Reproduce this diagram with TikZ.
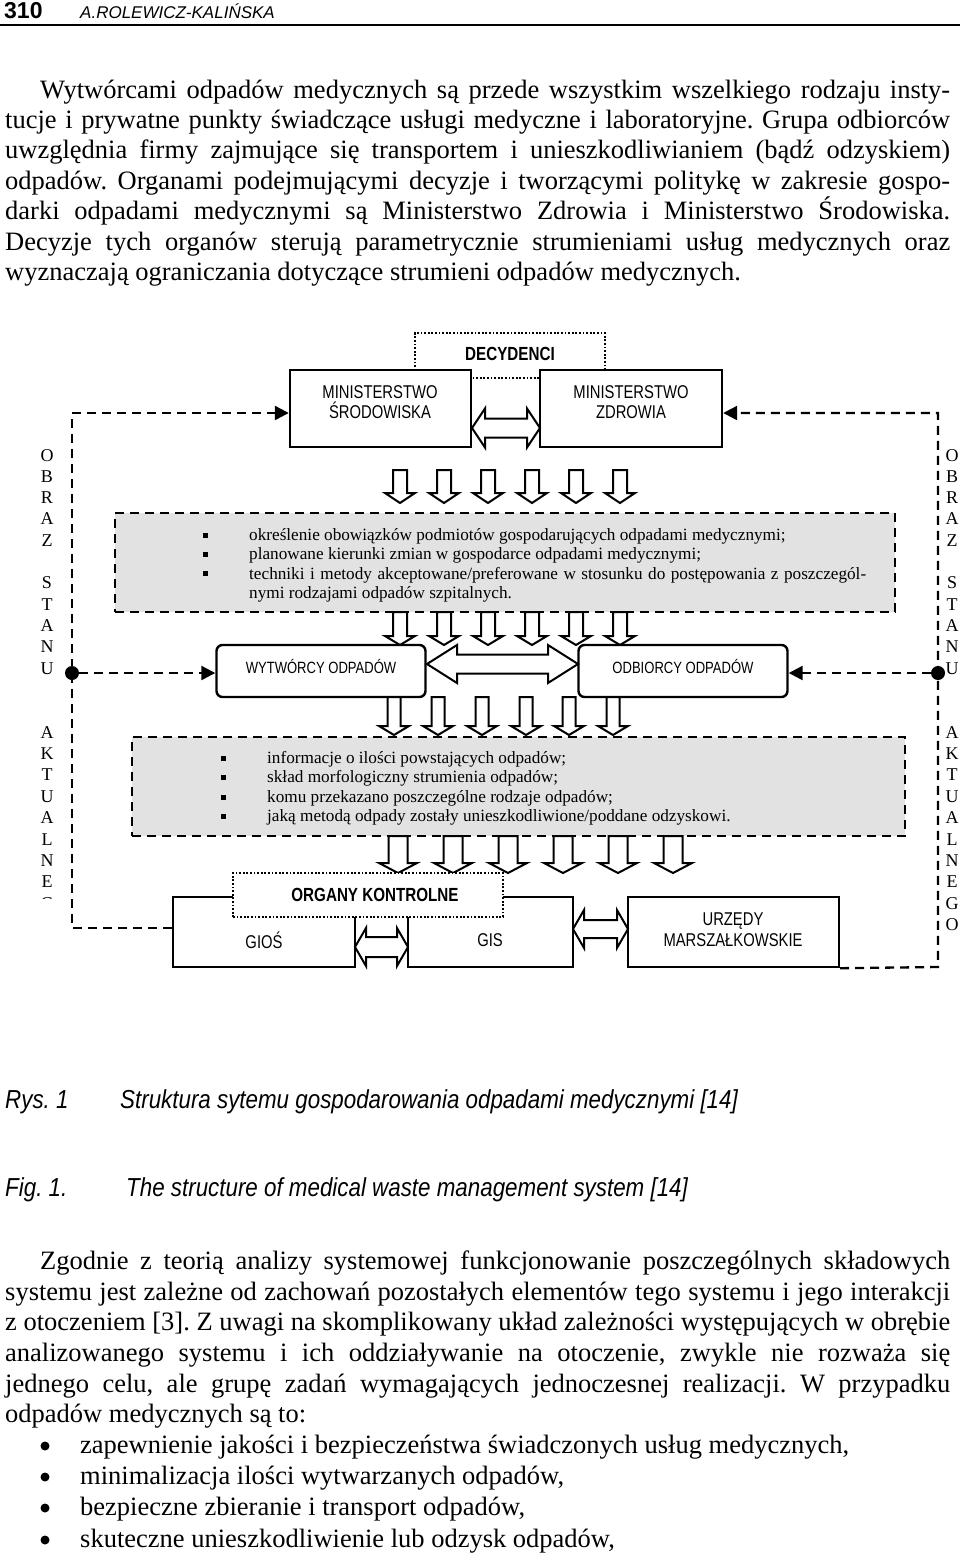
\documentclass[tikz,border=0pt]{standalone}
\usepackage{fontspec}
\setmainfont{Liberation Serif}
\newfontfamily\nsans[FakeStretch=0.8]{Liberation Sans}
\newfontfamily\capsans[FakeStretch=0.86]{Liberation Sans}
\newfontfamily\hsans{Liberation Sans}
\usetikzlibrary{arrows.meta,calc}
\frenchspacing
\definecolor{boxgray}{RGB}{226,226,226}
\newcommand{\DArrow}[6]{%
  \draw[blockarrow] (#1-#4,#2) -- (#1+#4,#2) -- (#1+#4,#3-#6) -- (#1+#5,#3-#6) -- (#1,#3) -- (#1-#5,#3-#6) -- (#1-#4,#3-#6) -- cycle;}
\newcommand{\HArrow}[6]{%
  \draw[blockarrow] (#1,#3) -- (#1+#6,#3-#5) -- (#1+#6,#3-#4) -- (#2-#6,#3-#4) -- (#2-#6,#3-#5) -- (#2,#3) -- (#2-#6,#3+#5) -- (#2-#6,#3+#4) -- (#1+#6,#3+#4) -- (#1+#6,#3+#5) -- cycle;}
\tikzset{
  box/.style={draw, line width=2.4pt, fill=white, inner sep=0pt},
  rbox/.style={box, rounded corners=6pt},
  graybox/.style={draw, line width=2.2pt, dash pattern=on 9pt off 6pt, fill=boxgray, inner sep=0pt},
  dotbox/.style={draw, line width=1.8pt, dash pattern=on 1.8pt off 1.8pt, fill=white, inner sep=0pt},
  dashline/.style={line width=2.3pt, dash pattern=on 9pt off 6pt},
  dtip/.style={-{Triangle[length=14pt,width=14pt]}},
  blockarrow/.style={draw, line width=2pt, fill=white, line join=miter},
  bigdot/.style={circle, fill, inner sep=0pt, minimum size=14pt},
  rounddot/.style={circle, fill, inner sep=0pt, minimum size=9pt},
  sqbullet/.style={fill, inner sep=0pt, minimum size=5pt},
  boxtxt/.style={font=\nsans\fontsize{18.5}{20.5}\selectfont, align=center, inner sep=0pt},
  smalltxt/.style={font=\nsans\fontsize{16.3}{20}\selectfont, inner sep=0pt},
  boldtxt/.style={font=\nsans\bfseries\fontsize{19}{20}\selectfont, inner sep=0pt},
  listtxt/.style={font=\fontsize{17.2}{19.5}\selectfont, anchor=base west, inner sep=0pt},
  bodytxt/.style={font=\fontsize{26.5}{30}\selectfont, anchor=base west, inner sep=0pt},
  vlet/.style={font=\fontsize{18}{20}\selectfont, anchor=base, inner sep=0pt},
  captxt/.style={font=\capsans\itshape\fontsize{26}{30}\selectfont, anchor=base west, inner sep=0pt},
}
\begin{document}
\begin{tikzpicture}[x=1pt,y=-1pt]
\useasboundingbox (0,0) rectangle (960,1559);
\fill[white] (0,0) rectangle (960,1559);

% header
\node[anchor=base west, inner sep=0pt, font=\hsans\bfseries\fontsize{23}{24}\selectfont] (pg) at (4,18.5) {310};
\node[anchor=base west, inner sep=0pt, font=\hsans\itshape\fontsize{17}{20}\selectfont] (au) at (80,18.5) {A.ROLEWICZ-KALIŃSKA};
\draw[line width=2pt] (0,25) -- (960,25);

% top paragraph
\node[bodytxt] (p1) at (40,98) {\makebox[910pt][s]{Wytwórcami odpadów medycznych są przede wszystkim wszelkiego rodzaju insty-}};
\node[bodytxt] (p2) at (5,128.4) {\makebox[945pt][s]{tucje i prywatne punkty świadczące usługi medyczne i laboratoryjne. Grupa odbiorców}};
\node[bodytxt] (p3) at (5,158.8) {\makebox[945pt][s]{uwzględnia firmy zajmujące się transportem i unieszkodliwianiem (bądź odzyskiem)}};
\node[bodytxt] (p4) at (5,189.2) {\makebox[945pt][s]{odpadów. Organami podejmującymi decyzje i tworzącymi politykę w zakresie gospo-}};
\node[bodytxt] (p5) at (5,219.6) {\makebox[945pt][s]{darki odpadami medycznymi są Ministerstwo Zdrowia i Ministerstwo Środowiska.}};
\node[bodytxt] (p6) at (5,250) {\makebox[945pt][s]{Decyzje tych organów sterują parametrycznie strumieniami usług medycznych oraz}};
\node[bodytxt] (p7) at (5,280.4) {wyznaczają ograniczania dotyczące strumieni odpadów medycznych.};

% decision makers
\node[dotbox, minimum width=190pt, minimum height=45pt] (dec) at (510,355.5) {};
\node[boldtxt] (dect) at (510,354) {DECYDENCI};
\node[box, minimum width=181pt, minimum height=77pt] (ms) at (380.5,408.5) {};
\node[boxtxt] (mst) at (380,402) {MINISTERSTWO\\ŚRODOWISKA};
\node[box, minimum width=182pt, minimum height=77pt] (mz) at (631,408.5) {};
\node[boxtxt] (mzt) at (631,402) {MINISTERSTWO\\ZDROWIA};
\HArrow{472}{540}{428}{9.5}{19.5}{13}

% outer feedback lines
\coordinate (lc1) at (72,413);
\coordinate (lc2) at (72,928);
\coordinate (rc1) at (938,413);
\coordinate (rc2) at (938,967);

% arrows ministries -> box1
\foreach \xx in {400,444,488,532,576,620} {\DArrow{\xx}{470}{503}{7}{15}{10}}

% box 1
\node[graybox, minimum width=780pt, minimum height=99pt] (b1) at (505,562.5) {};
\foreach \yy [count=\i] in {535,554,573} {\node[sqbullet] (b1s\i) at (205,\yy) {};}
\node[listtxt] (b1a) at (249,540) {określenie obowiązków podmiotów gospodarujących odpadami medycznymi;};
\node[listtxt] (b1b) at (249,559.5) {planowane kierunki zmian w gospodarce odpadami medycznymi;};
\node[listtxt] (b1c) at (249,579) {\makebox[617pt][s]{techniki i metody akceptowane/preferowane w stosunku do postępowania z poszczegól-}};
\node[listtxt] (b1d) at (249,598.5) {nymi rodzajami odpadów szpitalnych.};

% arrows box1 -> producers/receivers
\foreach \xx in {400,444,488,532,576,620} {\DArrow{\xx}{612}{645}{7}{15}{9}}

\node[rbox, minimum width=209pt, minimum height=52pt] (wyt) at (321,671) {};
\node[smalltxt] (wytt) at (321,667) {WYTWÓRCY ODPADÓW};
\node[rbox, minimum width=209pt, minimum height=52pt] (odb) at (683,671) {};
\node[smalltxt] (odbt) at (683,667) {ODBIORCY ODPADÓW};
\HArrow{427}{578}{664}{9.5}{19}{30}

% arrows producers -> box2
\foreach \xx in {394,438,482,526,569,613} {\DArrow{\xx}{697}{735}{6.5}{15}{9}}

% box 2
\node[graybox, minimum width=773pt, minimum height=99pt] (b2) at (518.5,786.5) {};
\foreach \yy [count=\i] in {758,777.5,797,816.5} {\node[sqbullet] (b2s\i) at (223,\yy) {};}
\node[listtxt] (b2a) at (267,763) {informacje o ilości powstających odpadów;};
\node[listtxt] (b2b) at (267,782.5) {skład morfologiczny strumienia odpadów;};
\node[listtxt] (b2c) at (267,802) {komu przekazano poszczególne rodzaje odpadów;};
\node[listtxt] (b2d) at (267,821.5) {jaką metodą odpady zostały unieszkodliwione/poddane odzyskowi.};

% arrows box2 -> control bodies
\foreach \xx in {398,453,508,563,618,673} {\DArrow{\xx}{836}{873}{9.5}{19}{10}}

% control bodies
\node[box, minimum width=182pt, minimum height=70pt] (gios) at (264,932) {};
\node[box, minimum width=165pt, minimum height=70pt] (gis) at (490.5,932) {};
\node[box, minimum width=211pt, minimum height=70pt] (urz) at (733.5,932) {};
\node[dotbox, minimum width=270pt, minimum height=44pt] (org) at (368,895) {};
\node[boldtxt] (orgt) at (375,895) {ORGANY KONTROLNE};
\node[boxtxt] (giost) at (264,940) {GIOŚ};
\node[boxtxt] (gist) at (490,940) {GIS};
\node[boxtxt] (urzt) at (733,929.5) {URZĘDY\\MARSZAŁKOWSKIE};
\HArrow{355}{408}{947}{10}{19}{11}
\HArrow{573}{628}{929}{9}{19}{11}

% feedback dashed lines
\draw[dashline, dtip] (gios.west |- lc2) -- (lc2) -- (lc1) -- (lc1 -| ms.west);
\draw[dashline, dtip] (urz.south east) -- (rc2) -- (rc1) -- (rc1 -| mz.east);
\node[bigdot] (ldot) at (72,673) {};
\node[bigdot] (rdot) at (938,673) {};
\draw[dashline, dtip] (ldot) -- (ldot -| wyt.west);
\draw[dashline, dtip] (rdot) -- (rdot -| odb.east);

% vertical letters
\foreach \L [count=\i from 0] in {O,B,R,A,Z,{},S,T,A,N,U} {
  \node[vlet] (lo\i) at (47,461+21.3*\i) {\L};
  \node[vlet] (ro\i) at (952,461+21.3*\i) {\L};
}
\begin{scope}
\clip (20,700) rectangle (70,898);
\foreach \L [count=\i from 0] in {A,K,T,U,A,L,N,E,G,O} {
  \node[vlet] (la\i) at (47,738+21.4*\i) {\L};
}
\end{scope}
\foreach \L [count=\i from 0] in {A,K,T,U,A,L,N,E,G,O} {
  \node[vlet] (ra\i) at (952,738+21.4*\i) {\L};
}

% captions
\node[captxt] (c1) at (5,1108) {Rys. 1};
\node[captxt] (c2) at (120,1108) {Struktura sytemu gospodarowania odpadami medycznymi [14]};
\node[captxt] (c3) at (5,1196) {Fig. 1.};
\node[captxt] (c4) at (126,1196) {The structure of medical waste management system [14]};

% bottom paragraph
\node[bodytxt] (q1) at (40,1269) {\makebox[910pt][s]{Zgodnie z teorią analizy systemowej funkcjonowanie poszczególnych składowych}};
\node[bodytxt] (q2) at (5,1300) {\makebox[945pt][s]{systemu jest zależne od zachowań pozostałych elementów tego systemu i jego interakcji}};
\node[bodytxt] (q3) at (5,1330.5) {\makebox[945pt][s]{z otoczeniem [3]. Z uwagi na skomplikowany układ zależności występujących w obrębie}};
\node[bodytxt] (q4) at (5,1361.3) {\makebox[945pt][s]{analizowanego systemu i ich oddziaływanie na otoczenie, zwykle nie rozważa się}};
\node[bodytxt] (q5) at (5,1392) {\makebox[945pt][s]{jednego celu, ale grupę zadań wymagających jednoczesnej realizacji. W przypadku}};
\node[bodytxt] (q6) at (5,1422.5) {odpadów medycznych są to:};
\foreach \yy [count=\i] in {1446,1477,1508,1540} {\node[rounddot] (qb\i) at (45,\yy) {};}
\node[bodytxt] (r1) at (80,1453) {zapewnienie jakości i bezpieczeństwa świadczonych usług medycznych,};
\node[bodytxt] (r2) at (80,1484) {minimalizacja ilości wytwarzanych odpadów,};
\node[bodytxt] (r3) at (80,1515) {bezpieczne zbieranie i transport odpadów,};
\node[bodytxt] (r4) at (80,1547) {skuteczne unieszkodliwienie lub odzysk odpadów,};
\end{tikzpicture}
\end{document}
